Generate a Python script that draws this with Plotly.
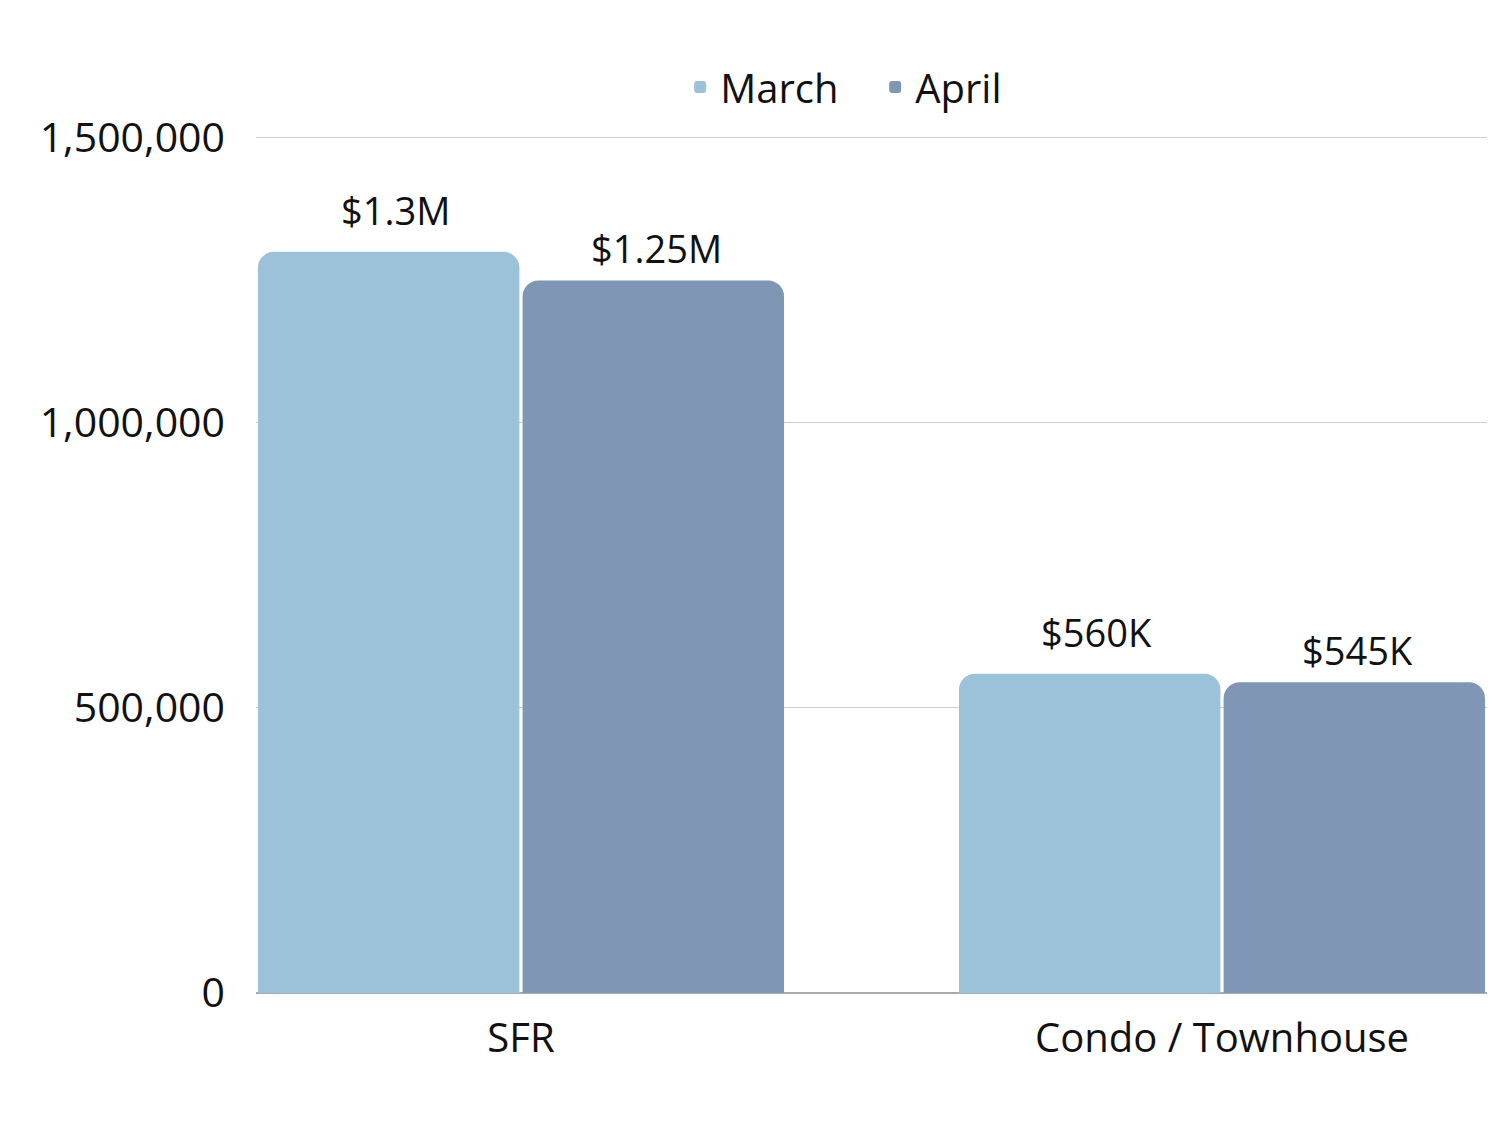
import plotly.graph_objects as go

categories = ["SFR", "Condo / Townhouse"]
march_values = [1300000, 560000]
april_values = [1250000, 545000]
march_labels = ["$1.3M", "$560K"]
april_labels = ["$1.25M", "$545K"]
y_ticks = [0, 500000, 1000000, 1500000]

FONT = "Open Sans, DejaVu Sans, sans-serif"
C_MARCH = "#9BC2D8"
C_APRIL = "#7F97B4"

fig = go.Figure()
fig.add_trace(go.Bar(name="March", x=categories, y=march_values, marker_color=C_MARCH,
                     marker_line_width=0))
fig.add_trace(go.Bar(name="April", x=categories, y=april_values, marker_color=C_APRIL,
                     marker_line_width=0))

bargap = 0.245
half = (1 - bargap) / 4
for i, cat in enumerate(categories):
    fig.add_annotation(x=i - half, y=march_values[i], xref="x", yref="y", text=march_labels[i],
                       showarrow=False, yanchor="bottom", yshift=14, xshift=7,
                       font=dict(family=FONT, size=38, color="#111111"))
    fig.add_annotation(x=i + half, y=april_values[i], xref="x", yref="y", text=april_labels[i],
                       showarrow=False, yanchor="bottom", yshift=4, xshift=3,
                       font=dict(family=FONT, size=38, color="#111111"))

fig.update_layout(
    width=1500, height=1125,
    paper_bgcolor="white", plot_bgcolor="white",
    barmode="group", bargap=bargap, bargroupgap=0.012, barcornerradius=16,
    margin=dict(l=248, r=21, t=127, b=140),
    font=dict(family=FONT, size=40, color="#111111"),
    legend=dict(orientation="h", x=0.503, xanchor="center", y=1.018, yanchor="bottom",
                font=dict(family=FONT, size=40, color="#111111"), itemwidth=30,
                entrywidth=150, entrywidthmode="pixels", traceorder="normal"),
    showlegend=True,
)
fig.update_xaxes(type="category", range=[-0.378, 1.378], showgrid=False, showline=False,
                 ticks="", ticklabelstandoff=18, tickfont=dict(family=FONT, size=40))
fig.update_yaxes(range=[0, 1505000], tickvals=y_ticks, tickformat=",", showgrid=True,
                 gridcolor="#cccccc", gridwidth=1, zeroline=True, zerolinecolor="#aaaaaa",
                 zerolinewidth=1.5, showline=False, ticks="", ticklabelstandoff=30,
                 tickfont=dict(family=FONT, size=41))

fig.write_html("out.html")
